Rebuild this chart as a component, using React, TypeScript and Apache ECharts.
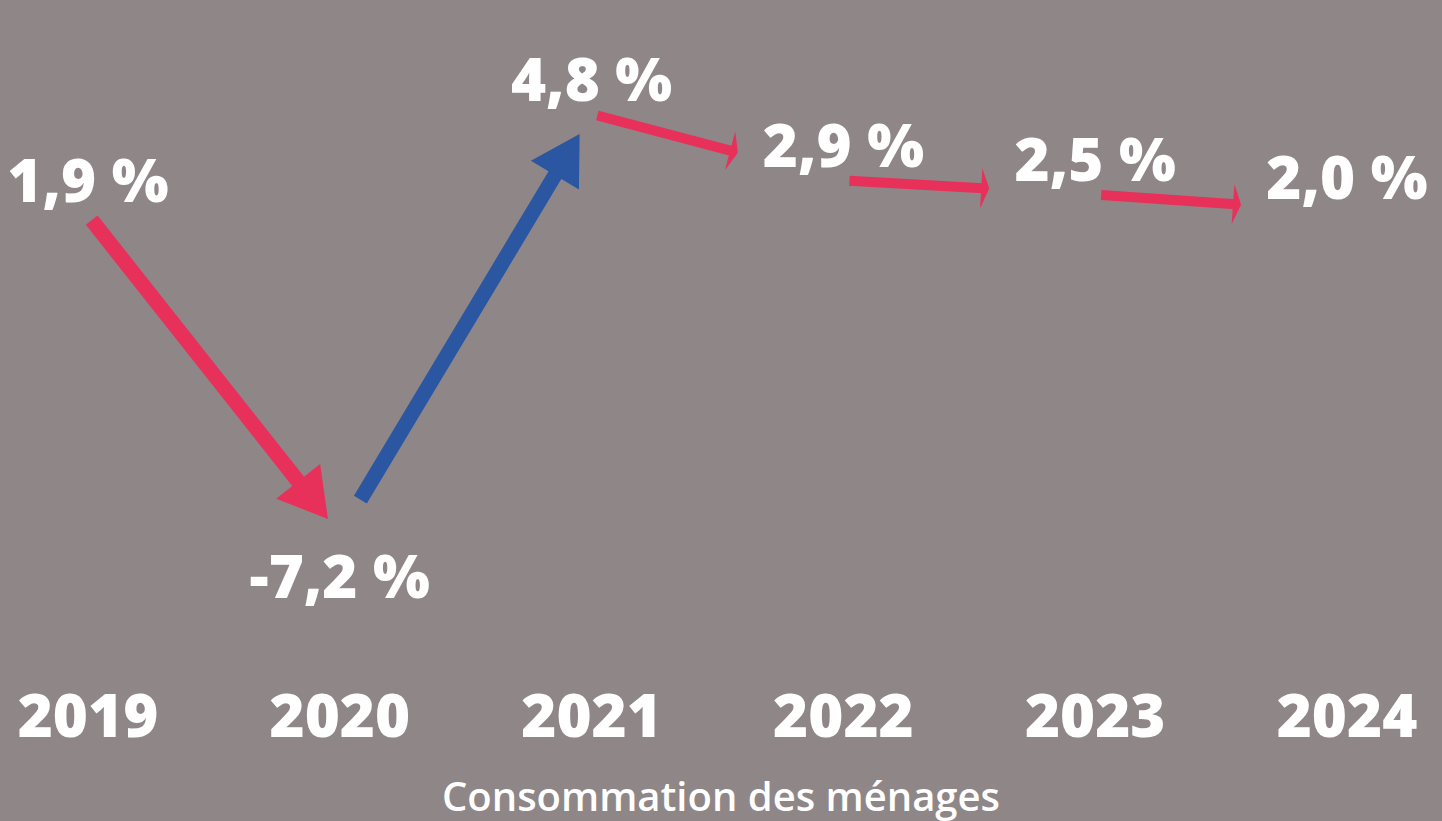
import React, { useEffect, useRef } from "react";
import * as echarts from "echarts";

const years = ["2019", "2020", "2021", "2022", "2023", "2024"];
const growth = [1.9, -7.2, 4.8, 2.9, 2.5, 2.0];
const chartTitle = "Consommation des ménages";

const BG = "#8f8688";
const RED = "#e8315a";
const BLUE = "#2a56a2";

const fmt = (v: number) => v.toFixed(1).replace(".", ",") + " %";

export default function App() {
  const ref = useRef<HTMLDivElement>(null);
  useEffect(() => {
    document.body.style.margin = "0";
    const chart = echarts.init(ref.current!, null, { renderer: "svg" });
    const arrows = growth.slice(0, -1).map((v, i) => [i, v, i + 1, growth[i + 1]]);

    const renderItem = (params: any, api: any) => {
      const v0 = api.value(1);
      const v1 = api.value(3);
      const p0 = api.coord([api.value(0), v0]);
      const p1 = api.coord([api.value(2), v1]);
      const dx = p1[0] - p0[0];
      const dy = p1[1] - p0[1];
      const len = Math.hypot(dx, dy);
      const ux = dx / len;
      const uy = dy / len;
      const long = len > 330;
      const startGap = v0 < 0 ? 40 : 6;
      let tEnd = 1 - 14 / len;
      const cx = p1[0];
      const cy = v1 < 0 ? p1[1] + 40 : p1[1] - 36;
      const hw = 92;
      const hh = 44;
      const slab = (o: number, d: number, lo: number, hi: number) => {
        if (Math.abs(d) < 1e-9) return o >= lo && o <= hi ? [-Infinity, Infinity] : [Infinity, -Infinity];
        const a = (lo - o) / d;
        const b = (hi - o) / d;
        return [Math.min(a, b), Math.max(a, b)];
      };
      const sx = slab(p0[0], dx, cx - hw, cx + hw);
      const sy = slab(p0[1], dy, cy - hh, cy + hh);
      const tIn = Math.max(sx[0], sy[0]);
      const tOut = Math.min(sx[1], sy[1]);
      if (tIn < tOut && tIn > 0 && tIn < 1) tEnd = Math.min(tEnd, tIn - 14 / len);
      const s = [p0[0] + ux * startGap, p0[1] + uy * startGap];
      const e = [p0[0] + dx * tEnd, p0[1] + dy * tEnd];
      const color = v1 < v0 ? RED : BLUE;
      const headLen = long ? 48 : 8;
      const headW = long ? 56 : 40;
      const lw = long ? 15 : 10;
      const base = [e[0] - ux * headLen, e[1] - uy * headLen];
      const nx = -uy;
      const ny = ux;
      const lineEnd = long ? [e[0] - ux * (headLen - 4), e[1] - uy * (headLen - 4)] : [e[0] - ux * 2, e[1] - uy * 2];
      return {
        type: "group",
        children: [
          {
            type: "line",
            shape: { x1: s[0], y1: s[1], x2: lineEnd[0], y2: lineEnd[1] },
            style: { stroke: color, lineWidth: lw, lineCap: "butt" },
          },
          {
            type: "polygon",
            shape: {
              points: [
                [e[0], e[1]],
                [base[0] + nx * headW / 2, base[1] + ny * headW / 2],
                [base[0] - nx * headW / 2, base[1] - ny * headW / 2],
              ],
            },
            style: { fill: color },
          },
        ],
      };
    };

    chart.setOption({
      animation: false,
      backgroundColor: BG,
      title: {
        text: chartTitle,
        left: "center",
        top: 768,
        textStyle: { color: "#ffffff", fontSize: 40, fontWeight: 600, fontFamily: "Open Sans", lineHeight: 44 },
      },
      grid: { left: 88, right: 95, top: 72, bottom: 189 },
      xAxis: {
        type: "category",
        data: years,
        boundaryGap: false,
        axisLine: { show: false },
        axisTick: { show: false },
        splitLine: { show: false },
        axisLabel: {
          color: "#ffffff",
          fontSize: 60,
          fontWeight: 800,
          fontFamily: "Open Sans",
          margin: 52,
        },
      },
      yAxis: {
        type: "value",
        min: -10,
        max: 6,
        show: false,
        splitLine: { show: false },
      },
      series: [
        {
          type: "custom",
          renderItem,
          data: arrows,
          encode: { x: [0, 2], y: [1, 3] },
          z: 2,
        },
        {
          type: "scatter",
          symbolSize: 1,
          itemStyle: { color: "rgba(0,0,0,0)", opacity: 1 },
          data: growth.map((v) => ({
            value: v,
            label: { position: v < 0 ? "bottom" : "top", distance: v < 0 ? 10 : 6 },
          })),
          label: {
            show: true,
            color: "#ffffff",
            fontSize: 60,
            fontWeight: 800,
            fontFamily: "Open Sans",
            lineHeight: 60,
            formatter: (p: any) => fmt(p.value),
          },
          z: 3,
        },
      ],
    });
    return () => chart.dispose();
  }, []);
  return <div ref={ref} style={{ width: 1442, height: 821 }} />;
}
